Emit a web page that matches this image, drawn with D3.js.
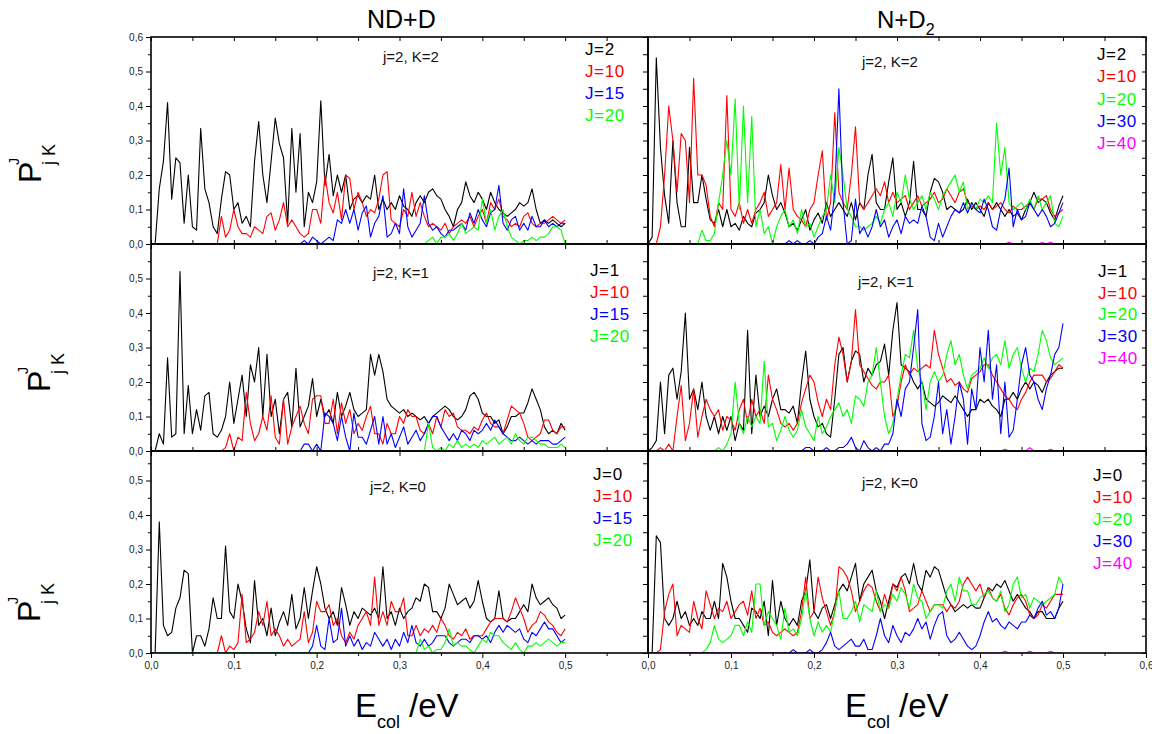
<!DOCTYPE html>
<html lang="en">

<head>
  <meta charset="utf-8">
  <title>P(J,jK) vs collision energy</title>
  <script type="text/javascript" src="https://d3js.org/d3.v7.min.js"></script>
  <style type="text/css">
    body { margin: 0; background: #fff; }
    svg text { font-family: "Liberation Sans", Arial, sans-serif; }
    .tick text { fill: #222; font-size: 10px; }
    .tick line { stroke: #000; }
  </style>
</head>

<body>
  <svg id="chart" width="1152" height="734"></svg>
  <script type="text/javascript">

    //Collision energy grid (eV), one sample every 0.005 eV from 0 to 0.5
    const energyStep = 0.005
    const energies = d3.range(101).map(i => +(i * energyStep).toFixed(3))

    //Headers and legend texts
    const columnTitles = ["ND+D", "N+D"]
    const panelTitles = ["j=2, K=2", "j=2, K=1", "j=2, K=0"]
    const legendNDD = [["J=2", "J=10", "J=15", "J=20"], ["J=1", "J=10", "J=15", "J=20"], ["J=0", "J=10", "J=15", "J=20"]]
    const legendND2 = [["J=2", "J=10", "J=20", "J=30", "J=40"], ["J=1", "J=10", "J=20", "J=30", "J=40"], ["J=0", "J=10", "J=20", "J=30", "J=40"]]
    const xTicksLeft = [0, 0.1, 0.2, 0.3, 0.4, 0.5]
    const xTicksRight = [0, 0.1, 0.2, 0.3, 0.4, 0.5, 0.6]
    const yTicksTop = [0, 0.1, 0.2, 0.3, 0.4, 0.5, 0.6]
    const yTicksOther = [0, 0.1, 0.2, 0.3, 0.4, 0.5]

    //ND+D, K=2
    const nddK2J2 = [
      0, 0, 0.16, 0.24, 0.41, 0.13, 0.25, 0.235, 0.06, 0.2,
      0.05, 0.04, 0.335, 0.16, 0.12, 0.05, 0.03, 0.13, 0.21, 0.2,
      0.1, 0.12, 0.06, 0.08, 0.05, 0.24, 0.355, 0.2, 0.12, 0.24,
      0.365, 0.29, 0.25, 0.06, 0.335, 0.15, 0.32, 0.05, 0.15, 0.12,
      0.18, 0.415, 0.17, 0.26, 0.14, 0.2, 0.15, 0.2, 0.1, 0.13,
      0.14, 0.12, 0.14, 0.13, 0.2, 0.1, 0.13, 0.1, 0.12, 0.1,
      0.14, 0.11, 0.1, 0.08, 0.12, 0.14, 0.12, 0.15, 0.16, 0.14,
      0.13, 0.1, 0.08, 0.05, 0.1, 0.12, 0.18, 0.14, 0.12, 0.15,
      0.13, 0.1, 0.15, 0.12, 0.1, 0.09, 0.08, 0.09, 0.1, 0.12,
      0.11, 0.12, 0.16, 0.1, 0.06, 0.07, 0.06, 0.07, 0.06, 0.05,
      0.06]
    const nddK2J10 = [
      0, 0, 0, 0, 0, 0, 0, 0, 0, 0,
      0, 0, 0, 0, 0, 0, 0, 0.08, 0.02, 0.04,
      0.1, 0.05, 0.03, 0.03, 0.02, 0.05, 0.04, 0.03, 0.08, 0.09,
      0.04, 0.07, 0.12, 0.05, 0.07, 0.05, 0.03, 0.02, 0.03, 0.1,
      0.1, 0.06, 0.2, 0.12, 0.09, 0.15, 0.07, 0.2, 0.19, 0.1,
      0.15, 0.12, 0.08, 0.1, 0.09, 0.13, 0.2, 0.21, 0.07, 0.06,
      0.05, 0.1, 0.08, 0.15, 0.08, 0.12, 0.08, 0.05, 0.06, 0.05,
      0.04, 0.06, 0.03, 0.05, 0.06, 0.07, 0.06, 0.08, 0.05, 0.08,
      0.1, 0.06, 0.12, 0.1, 0.13, 0.08, 0.07, 0.05, 0.06, 0.05,
      0.08, 0.09, 0.06, 0.05, 0.06, 0.06, 0.07, 0.08, 0.07, 0.06,
      0.07]
    const nddK2J15 = [
      0, 0, 0, 0, 0, 0, 0, 0, 0, 0,
      0, 0, 0, 0, 0, 0, 0, 0, 0, 0,
      0, 0, 0, 0, 0, 0, 0, 0, 0, 0,
      0, 0, 0, 0, 0, 0, 0, 0.01, 0, 0.02,
      0.01, 0, 0.01, 0.02, 0.01, 0.07, 0.06, 0.1, 0.06, 0.1,
      0.04, 0.09, 0.11, 0.02, 0.06, 0.08, 0.14, 0.02, 0.03, 0.06,
      0.03, 0.16, 0.05, 0.02, 0.04, 0.06, 0.14, 0.06, 0.04, 0.05,
      0.03, 0.02, 0.04, 0.04, 0.05, 0.06, 0.04, 0.09, 0.06, 0.1,
      0.07, 0.05, 0.09, 0.1, 0.17, 0.06, 0.04, 0.07, 0.08, 0.04,
      0.06, 0.04, 0.08, 0.05, 0.05, 0.07, 0.05, 0.06, 0.05, 0.06,
      0.06]
    const nddK2J20 = [
      0, 0, 0, 0, 0, 0, 0, 0, 0, 0,
      0, 0, 0, 0, 0, 0, 0, 0, 0, 0,
      0, 0, 0, 0, 0, 0, 0, 0, 0, 0,
      0, 0, 0, 0, 0, 0, 0, 0, 0, 0,
      0, 0, 0, 0, 0, 0, 0, 0, 0, 0,
      0, 0, 0, 0, 0, 0, 0, 0, 0, 0,
      0, 0, 0, 0, 0, 0, 0, 0.01, 0.02, 0,
      0.02, 0.02, 0.03, 0.01, 0.03, 0.06, 0.03, 0.04, 0.05, 0.04,
      0.13, 0.06, 0.1, 0.04, 0.08, 0.1, 0.05, 0.02, 0.01, 0,
      0.01, 0.01, 0.02, 0.01, 0.02, 0.02, 0.03, 0.05, 0.05, 0.04,
      0]

    //N+D2, K=2
    const nd2K2J2 = [
      0, 0.02, 0.54, 0.28, 0.14, 0.06, 0.3, 0.12, 0.05, 0.05,
      0.28, 0.12, 0.12, 0.2, 0.13, 0.07, 0.06, 0.1, 0.05, 0.1,
      0.05, 0.06, 0.04, 0.08, 0.06, 0.05, 0.09, 0.1, 0.12, 0.2,
      0.14, 0.1, 0.12, 0.09, 0.05, 0.06, 0.04, 0.07, 0.1, 0.04,
      0.07, 0.09, 0.06, 0.12, 0.08, 0.1, 0.12, 0.1, 0.08, 0.12,
      0.07, 0.12, 0.1, 0.2, 0.26, 0.12, 0.1, 0.1, 0.18, 0.25,
      0.1, 0.12, 0.08, 0.12, 0.24, 0.1, 0.1, 0.08, 0.15, 0.19,
      0.18, 0.15, 0.1, 0.11, 0.1, 0.09, 0.1, 0.13, 0.1, 0.12,
      0.1, 0.08, 0.12, 0.1, 0.12, 0.1, 0.08, 0.1, 0.08, 0.09,
      0.07, 0.1, 0.12, 0.15, 0.12, 0.13, 0.12, 0.09, 0.07, 0.11,
      0.14]
    const nd2K2J10 = [
      0, 0, 0, 0.05, 0.2, 0.4, 0.3, 0.15, 0.32, 0.3,
      0.12, 0.48, 0.2, 0.2, 0.17, 0.08, 0.05, 0.12, 0.1, 0.43,
      0.1, 0.08, 0.12, 0.06, 0.1, 0.06, 0.1, 0.12, 0.15, 0.08,
      0.1, 0.12, 0.23, 0.1, 0.22, 0.1, 0.08, 0.07, 0.05, 0.1,
      0.12, 0.2, 0.27, 0.07, 0.12, 0.38, 0.15, 0.12, 0.1, 0.2,
      0.34, 0.12, 0.1, 0.12, 0.14, 0.16, 0.14, 0.18, 0.12, 0.15,
      0.12, 0.13, 0.14, 0.1, 0.12, 0.14, 0.11, 0.12, 0.13, 0.15,
      0.12, 0.13, 0.16, 0.14, 0.12, 0.15, 0.16, 0.12, 0.11, 0.1,
      0.11, 0.1, 0.12, 0.1, 0.11, 0.12, 0.1, 0.09, 0.11, 0.1,
      0.1, 0.11, 0.12, 0.1, 0.13, 0.13, 0.14, 0.1, 0.08, 0.09,
      0.1]
    const nd2K2J20 = [
      0, 0, 0, 0, 0, 0, 0, 0, 0, 0,
      0, 0, 0, 0.04, 0.01, 0.01, 0.03, 0.12, 0.2, 0.3,
      0.2, 0.42, 0.1, 0.4, 0.12, 0.37, 0.05, 0.1, 0.03, 0.05,
      0, 0.05, 0.08, 0.1, 0.05, 0.07, 0.03, 0.1, 0.05, 0.06,
      0.02, 0.05, 0.08, 0.1, 0.2, 0.12, 0.28, 0.2, 0.1, 0.08,
      0.05, 0.05, 0.04, 0.05, 0.06, 0.08, 0.06, 0.1, 0.12, 0.08,
      0.15, 0.12, 0.2, 0.13, 0.1, 0.12, 0.14, 0.1, 0.15, 0.13,
      0.1, 0.14, 0.16, 0.18, 0.2, 0.15, 0.18, 0.1, 0.12, 0.1,
      0.13, 0.12, 0.14, 0.12, 0.35, 0.2, 0.28, 0.12, 0.1, 0.11,
      0.12, 0.1, 0.13, 0.1, 0.14, 0.1, 0.12, 0.14, 0.06, 0.05,
      0.08]
    const nd2K2J30 = [
      0, 0, 0, 0, 0, 0, 0, 0, 0, 0,
      0, 0, 0, 0, 0, 0, 0, 0, 0, 0,
      0, 0, 0, 0, 0, 0, 0, 0, 0, 0,
      0, 0, 0, 0, 0.01, 0, 0.01, 0, 0, 0.01,
      0, 0.02, 0.03, 0.08, 0.04, 0.15, 0.45, 0.12, 0, 0.01,
      0.13, 0.03, 0.05, 0.02, 0.05, 0.1, 0.05, 0.07, 0.02, 0.05,
      0.07, 0.03, 0.08, 0.06, 0.07, 0.06, 0.11, 0.08, 0.02, 0.01,
      0.06, 0.02, 0.05, 0.08, 0.1, 0.09, 0.12, 0.09, 0.12, 0.1,
      0.09, 0.13, 0.1, 0.05, 0.04, 0.1, 0.13, 0.22, 0.05, 0.1,
      0.07, 0.08, 0.12, 0.1, 0.08, 0.1, 0.08, 0.05, 0.06, 0.09,
      0.12]
    const nd2K2J40 = [
      0, 0, 0, 0, 0, 0, 0, 0, 0, 0,
      0, 0, 0, 0, 0, 0, 0, 0, 0, 0,
      0, 0, 0, 0, 0, 0, 0, 0, 0, 0,
      0, 0, 0, 0, 0, 0, 0, 0, 0, 0,
      0, 0, 0, 0, 0, 0, 0, 0, 0, 0,
      0, 0, 0, 0, 0, 0, 0, 0, 0, 0,
      0, 0, 0, 0, 0, 0, 0, 0, 0, 0,
      0, 0, 0, 0, 0, 0, 0, 0, 0, 0,
      0, 0, 0, 0, 0, 0, 0, 0.005, 0, 0,
      0, 0, 0, 0, 0, 0.004, 0, 0.005, 0, 0,
      0]

    //ND+D, K=1
    const nddK1J1 = [
      0, 0, 0.05, 0.02, 0.27, 0.04, 0.05, 0.52, 0.05, 0.19,
      0.05, 0.12, 0.06, 0.16, 0.17, 0.05, 0.04, 0.06, 0.1, 0.2,
      0.08, 0.15, 0.22, 0.1, 0.25, 0.2, 0.3, 0.1, 0.28, 0.1,
      0.15, 0.05, 0.15, 0.17, 0.07, 0.24, 0.07, 0.1, 0.13, 0.21,
      0.1, 0.15, 0.1, 0.12, 0.08, 0.17, 0.1, 0.13, 0.17, 0.12,
      0.1, 0.11, 0.12, 0.28, 0.22, 0.28, 0.23, 0.15, 0.13, 0.12,
      0.11, 0.12, 0.1, 0.11, 0.1, 0.09, 0.1, 0.08, 0.1, 0.11,
      0.12, 0.13, 0.12, 0.1, 0.09, 0.1, 0.12, 0.16, 0.17, 0.15,
      0.11, 0.1, 0.1, 0.08, 0.09, 0.05, 0.07, 0.1, 0.1, 0.11,
      0.11, 0.14, 0.18, 0.15, 0.12, 0.07, 0.05, 0.06, 0.05, 0.08,
      0.06]
    const nddK1J10 = [
      0, 0, 0, 0, 0, 0, 0, 0, 0, 0,
      0, 0, 0, 0, 0, 0, 0, 0, 0.01, 0.05,
      0, 0.04, 0.03, 0.17, 0.08, 0.03, 0.05, 0.1, 0.06, 0.16,
      0.04, 0.02, 0.15, 0.02, 0.07, 0.1, 0.13, 0.08, 0.05, 0.15,
      0.16, 0.16, 0.08, 0.08, 0.15, 0.05, 0.14, 0.08, 0.12, 0.05,
      0.08, 0.06, 0.1, 0.13, 0.05, 0.05, 0.02, 0.08, 0.05, 0.05,
      0.1, 0.08, 0.12, 0.1, 0.1, 0.06, 0.05, 0.08, 0.05, 0.1,
      0.07, 0.12, 0.1, 0.11, 0.07, 0.06, 0.06, 0.05, 0.07, 0.06,
      0.09, 0.11, 0.08, 0.07, 0.07, 0.05, 0.09, 0.13, 0.12, 0.11,
      0.08, 0.04, 0.03, 0.04, 0.05, 0.09, 0.09, 0.06, 0.05, 0.07,
      0.07]
    const nddK1J15 = [
      0, 0, 0, 0, 0, 0, 0, 0, 0, 0,
      0, 0, 0, 0, 0, 0, 0, 0, 0, 0,
      0, 0, 0, 0, 0, 0, 0, 0, 0, 0,
      0, 0, 0, 0, 0, 0, 0, 0.02, 0.02, 0,
      0.02, 0, 0.11, 0.1, 0.08, 0.03, 0.1, 0.04, 0, 0.11,
      0.04, 0.04, 0.02, 0.06, 0.1, 0.02, 0.1, 0.02, 0.05, 0.01,
      0.04, 0.07, 0.02, 0.04, 0.06, 0.03, 0.05, 0.08, 0.1, 0.1,
      0.07, 0.05, 0.03, 0.05, 0.03, 0.06, 0.05, 0.03, 0.06, 0.05,
      0.06, 0.08, 0.06, 0.09, 0.07, 0.05, 0.04, 0.03, 0.03, 0.04,
      0.03, 0.02, 0.03, 0.02, 0.03, 0.03, 0.03, 0.02, 0.02, 0.03,
      0.04]
    const nddK1J20 = [
      0, 0, 0, 0, 0, 0, 0, 0, 0, 0,
      0, 0, 0, 0, 0, 0, 0, 0, 0, 0,
      0, 0, 0, 0, 0, 0, 0, 0, 0, 0,
      0, 0, 0, 0, 0, 0, 0, 0, 0, 0,
      0, 0, 0, 0, 0, 0, 0, 0, 0, 0,
      0, 0, 0, 0, 0, 0, 0, 0, 0, 0,
      0, 0, 0, 0, 0, 0, 0, 0.08, 0.01, 0,
      0.01, 0, 0.02, 0.01, 0.03, 0.01, 0.02, 0.01, 0.02, 0.01,
      0.03, 0.02, 0.03, 0.04, 0.02, 0.03, 0.04, 0.02, 0.05, 0.03,
      0.02, 0.04, 0.04, 0.03, 0.02, 0.02, 0.01, 0.01, 0.01, 0.02,
      0.01]

    //N+D2, K=1
    const nd2K1J1 = [
      0, 0.01, 0.03, 0.2, 0.05, 0.22, 0.24, 0.15, 0.23, 0.4,
      0.15, 0.18, 0.12, 0.2, 0.1, 0.06, 0.1, 0.05, 0.1, 0.06,
      0.1, 0.03, 0.08, 0.06, 0.35, 0.05, 0.22, 0.1, 0.13, 0.1,
      0.15, 0.18, 0.12, 0.12, 0.11, 0.13, 0.08, 0.2, 0.29, 0.15,
      0.1, 0.07, 0.08, 0.05, 0.04, 0.15, 0.28, 0.3, 0.2, 0.26,
      0.29, 0.28, 0.2, 0.24, 0.22, 0.25, 0.26, 0.31, 0.22, 0.35,
      0.43, 0.25, 0.24, 0.23, 0.2, 0.18, 0.2, 0.15, 0.14, 0.13,
      0.14, 0.16, 0.15, 0.14, 0.16, 0.14, 0.12, 0.1, 0.12, 0.12,
      0.15, 0.14, 0.15, 0.13, 0.12, 0.1, 0.15, 0.15, 0.17, 0.15,
      0.18, 0.2, 0.18, 0.2, 0.19, 0.17, 0.2, 0.22, 0.23, 0.24,
      0.24]
    const nd2K1J10 = [
      0, 0, 0, 0.01, 0, 0.02, 0, 0.1, 0.19, 0.03,
      0.08, 0.18, 0.04, 0.1, 0.15, 0.12, 0.1, 0.12, 0.06, 0.1,
      0.09, 0.06, 0.12, 0.15, 0.08, 0.15, 0.1, 0.12, 0.08, 0.22,
      0.15, 0.12, 0.08, 0.07, 0.08, 0.06, 0.08, 0.14, 0.18, 0.22,
      0.2, 0.14, 0.1, 0.15, 0.12, 0.25, 0.33, 0.28, 0.2, 0.26,
      0.41, 0.25, 0.23, 0.21, 0.19, 0.18, 0.2, 0.2, 0.22, 0.1,
      0.13, 0.2, 0.25, 0.22, 0.24, 0.23, 0.24, 0.25, 0.24, 0.35,
      0.28, 0.24, 0.2, 0.21, 0.19, 0.2, 0.18, 0.17, 0.21, 0.22,
      0.23, 0.25, 0.25, 0.22, 0.2, 0.18, 0.16, 0.15, 0.13, 0.12,
      0.15, 0.17, 0.2, 0.22, 0.22, 0.22, 0.2, 0.21, 0.23, 0.25,
      0.24]
    const nd2K1J20 = [
      0, 0, 0, 0, 0, 0, 0, 0, 0, 0,
      0, 0, 0, 0, 0, 0, 0, 0.01, 0, 0.02,
      0.05, 0.2, 0.08, 0.05, 0.1, 0.07, 0.1, 0.08, 0.26, 0.07,
      0.08, 0.03, 0.06, 0.1, 0.06, 0.04, 0.06, 0.12, 0.07, 0.05,
      0.03, 0.1, 0.05, 0.07, 0.1, 0.12, 0.14, 0.1, 0.12, 0.08,
      0.16, 0.15, 0.13, 0.2, 0.22, 0.3, 0.2, 0.1, 0.05, 0.08,
      0.15, 0.22, 0.28, 0.27, 0.35, 0.24, 0.2, 0.12, 0.2, 0.23,
      0.2, 0.22, 0.28, 0.32, 0.25, 0.28, 0.22, 0.18, 0.22, 0.23,
      0.24, 0.27, 0.24, 0.27, 0.28, 0.25, 0.32, 0.24, 0.28, 0.3,
      0.24, 0.2, 0.24, 0.23, 0.28, 0.35, 0.32, 0.27, 0.25, 0.26,
      0.27]
    const nd2K1J30 = [
      0, 0, 0, 0, 0, 0, 0, 0, 0, 0,
      0, 0, 0, 0, 0, 0, 0, 0, 0, 0,
      0, 0, 0, 0, 0, 0, 0, 0, 0, 0,
      0, 0, 0, 0, 0, 0, 0, 0, 0.01, 0.01,
      0, 0, 0, 0.01, 0, 0, 0.01, 0.01, 0.02, 0.04,
      0.01, 0, 0.03, 0.01, 0, 0.01, 0, 0.02, 0.02, 0.05,
      0.15, 0.1, 0.18, 0.2, 0.3, 0.41, 0.08, 0.03, 0.04, 0.1,
      0.2, 0.05, 0.12, 0.02, 0.1, 0.2, 0.15, 0.02, 0.18, 0.12,
      0.3, 0.2, 0.35, 0.15, 0.25, 0.05, 0.2, 0.04, 0.06, 0.15,
      0.25, 0.3, 0.22, 0.2, 0.15, 0.12, 0.18, 0.22, 0.28, 0.3,
      0.37]
    const nd2K1J40 = [
      0, 0, 0, 0, 0, 0, 0, 0, 0, 0,
      0, 0, 0, 0, 0, 0, 0, 0, 0, 0,
      0, 0, 0, 0, 0, 0, 0, 0, 0, 0,
      0, 0, 0, 0, 0, 0, 0, 0, 0, 0,
      0, 0, 0, 0, 0, 0, 0, 0, 0, 0,
      0, 0, 0, 0, 0, 0, 0, 0, 0, 0,
      0, 0, 0, 0, 0, 0, 0, 0, 0, 0,
      0, 0, 0, 0, 0, 0, 0, 0, 0, 0,
      0, 0, 0, 0, 0, 0, 0.005, 0, 0, 0,
      0, 0, 0.01, 0, 0, 0, 0, 0.005, 0, 0,
      0]

    //ND+D, K=0
    const nddK0J0 = [
      0, 0, 0.38, 0.08, 0.05, 0.06, 0.13, 0.16, 0.24, 0.23,
      0, 0.05, 0.05, 0.02, 0.07, 0.16, 0.1, 0.1, 0.31, 0.12,
      0.1, 0.2, 0.15, 0.07, 0.03, 0.21, 0.08, 0.1, 0.05, 0.13,
      0.05, 0.09, 0.12, 0.08, 0.17, 0.07, 0.1, 0.19, 0.1, 0.18,
      0.25, 0.2, 0.13, 0.1, 0.12, 0.08, 0.19, 0.14, 0.08, 0.12,
      0.1, 0.13, 0.12, 0.11, 0.13, 0.1, 0.25, 0.1, 0.12, 0.08,
      0.13, 0.1, 0.12, 0.13, 0.16, 0.15, 0.2, 0.19, 0.12, 0.12,
      0.1, 0.13, 0.2, 0.17, 0.14, 0.15, 0.16, 0.13, 0.15, 0.21,
      0.15, 0.1, 0.09, 0.1, 0.18, 0.1, 0.09, 0.1, 0.1, 0.12,
      0.14, 0.12, 0.2, 0.16, 0.14, 0.15, 0.16, 0.14, 0.13, 0.1,
      0.11]
    const nddK0J10 = [
      0, 0, 0, 0, 0, 0, 0, 0, 0, 0,
      0, 0, 0, 0, 0, 0, 0, 0.05, 0, 0.02,
      0.01, 0.03, 0.17, 0.03, 0.04, 0.06, 0.12, 0.08, 0.15, 0.05,
      0.07, 0.05, 0.02, 0.04, 0.02, 0.03, 0.04, 0.12, 0.03, 0.06,
      0.15, 0.12, 0.12, 0.14, 0.08, 0.1, 0.05, 0.03, 0.06, 0.04,
      0.08, 0.1, 0.12, 0.08, 0.22, 0.08, 0.12, 0.08, 0.15, 0.12,
      0.12, 0.16, 0.05, 0.05, 0.08, 0.05, 0.07, 0.06, 0.08, 0.06,
      0.1, 0.08, 0.05, 0.04, 0.06, 0.05, 0.07, 0.04, 0.05, 0.05,
      0.05, 0.07, 0.09, 0.1, 0.1, 0.1, 0.09, 0.12, 0.16, 0.13,
      0.1, 0.06, 0.08, 0.09, 0.12, 0.11, 0.09, 0.08, 0.06, 0.05,
      0.07]
    const nddK0J15 = [
      0, 0, 0, 0, 0, 0, 0, 0, 0, 0,
      0, 0, 0, 0, 0, 0, 0, 0, 0, 0,
      0, 0, 0, 0, 0, 0, 0, 0, 0, 0,
      0, 0, 0, 0, 0, 0, 0, 0, 0, 0.02,
      0.08, 0.02, 0.01, 0.1, 0.03, 0.04, 0.13, 0.02, 0.05, 0.02,
      0.04, 0.01, 0.03, 0.02, 0.06, 0.04, 0.02, 0.04, 0.01, 0.04,
      0.02, 0.06, 0.03, 0.08, 0.03, 0.02, 0.04, 0.02, 0.03, 0.05,
      0.05, 0.05, 0.03, 0.02, 0.03, 0.04, 0.04, 0.03, 0.05, 0.05,
      0.04, 0.05, 0.03, 0.06, 0.08, 0.06, 0.08, 0.07, 0.06, 0.07,
      0.04, 0.03, 0.06, 0.05, 0.07, 0.09, 0.07, 0.07, 0.05, 0.03,
      0.04]
    const nddK0J20 = [
      0, 0, 0, 0, 0, 0, 0, 0, 0, 0,
      0, 0, 0, 0, 0, 0, 0, 0, 0, 0,
      0, 0, 0, 0, 0, 0, 0, 0, 0, 0,
      0, 0, 0, 0, 0, 0, 0, 0, 0, 0,
      0, 0, 0, 0, 0, 0, 0, 0, 0, 0,
      0, 0, 0, 0, 0, 0, 0, 0, 0, 0,
      0, 0, 0, 0, 0, 0.04, 0.01, 0.02, 0, 0.01,
      0.01, 0.03, 0.07, 0.02, 0.03, 0.02, 0.02, 0.01, 0, 0.02,
      0.04, 0.03, 0.06, 0.05, 0.05, 0.03, 0.02, 0.01, 0.03, 0.01,
      0, 0.02, 0.02, 0.03, 0.02, 0.03, 0.04, 0.03, 0.02, 0.03,
      0.03]

    //N+D2, K=0
    const nd2K0J0 = [
      0, 0, 0.34, 0.32, 0.1, 0.08, 0.1, 0.15, 0.1, 0.12,
      0.08, 0.1, 0.08, 0.12, 0.1, 0.1, 0.15, 0.1, 0.26, 0.22,
      0.15, 0.1, 0.1, 0.08, 0.06, 0.13, 0.12, 0.1, 0.15, 0.05,
      0.21, 0.08, 0.15, 0.1, 0.08, 0.1, 0.08, 0.15, 0.18, 0.27,
      0.12, 0.1, 0.13, 0.14, 0.1, 0.14, 0.18, 0.2, 0.18, 0.22,
      0.26, 0.15, 0.2, 0.22, 0.24, 0.18, 0.15, 0.1, 0.15, 0.2,
      0.19, 0.22, 0.23, 0.2, 0.26, 0.2, 0.18, 0.24, 0.22, 0.25,
      0.24, 0.2, 0.16, 0.14, 0.12, 0.13, 0.14, 0.13, 0.14, 0.13,
      0.13, 0.16, 0.19, 0.18, 0.2, 0.19, 0.21, 0.18, 0.15, 0.17,
      0.15, 0.13, 0.12, 0.1, 0.12, 0.12, 0.1, 0.1, 0.1, 0.13,
      0.15]
    const nd2K0J10 = [
      0, 0, 0, 0.01, 0.12, 0.17, 0.2, 0.05, 0.08, 0.07,
      0.06, 0.15, 0.1, 0.07, 0.18, 0.14, 0.1, 0.13, 0.12, 0.15,
      0.1, 0.12, 0.14, 0.15, 0.11, 0.18, 0.1, 0.13, 0.08, 0.09,
      0.06, 0.05, 0.06, 0.07, 0.06, 0.05, 0.06, 0.12, 0.22, 0.1,
      0.12, 0.22, 0.16, 0.12, 0.08, 0.12, 0.25, 0.24, 0.22, 0.18,
      0.12, 0.15, 0.18, 0.2, 0.19, 0.15, 0.12, 0.17, 0.13, 0.2,
      0.18, 0.22, 0.18, 0.12, 0.13, 0.14, 0.18, 0.15, 0.12, 0.14,
      0.14, 0.14, 0.12, 0.14, 0.13, 0.15, 0.2, 0.22, 0.2, 0.18,
      0.2, 0.16, 0.19, 0.16, 0.15, 0.17, 0.13, 0.11, 0.14, 0.16,
      0.17, 0.15, 0.11, 0.1, 0.11, 0.14, 0.13, 0.15, 0.17, 0.17,
      0.17]
    const nd2K0J20 = [
      0, 0, 0, 0, 0, 0, 0, 0, 0, 0,
      0, 0, 0, 0, 0.01, 0.03, 0.08, 0.04, 0.03, 0.04,
      0.05, 0.08, 0.08, 0.05, 0.09, 0.06, 0.2, 0.2, 0.08, 0.12,
      0.1, 0.08, 0.04, 0.13, 0.06, 0.07, 0.05, 0.1, 0.18, 0.1,
      0.05, 0.09, 0.06, 0.08, 0.06, 0.12, 0.18, 0.1, 0.1, 0.12,
      0.15, 0.09, 0.14, 0.13, 0.12, 0.18, 0.12, 0.14, 0.13, 0.17,
      0.15, 0.19, 0.17, 0.13, 0.2, 0.16, 0.15, 0.1, 0.12, 0.14,
      0.14, 0.13, 0.18, 0.2, 0.15, 0.22, 0.18, 0.18, 0.14, 0.14,
      0.16, 0.17, 0.18, 0.16, 0.15, 0.18, 0.12, 0.14, 0.2, 0.22,
      0.16, 0.17, 0.13, 0.16, 0.15, 0.14, 0.15, 0.16, 0.17, 0.22,
      0.2]
    const nd2K0J30 = [
      0, 0, 0, 0, 0, 0, 0, 0, 0, 0,
      0, 0, 0, 0, 0, 0, 0, 0, 0, 0,
      0, 0, 0, 0, 0, 0, 0, 0, 0, 0,
      0, 0, 0, 0, 0, 0.01, 0, 0, 0, 0.01,
      0, 0, 0.01, 0.03, 0.06, 0.02, 0.01, 0.02, 0.03, 0.04,
      0.02, 0.02, 0.04, 0.01, 0.01, 0.05, 0.1, 0.05, 0.03, 0.08,
      0.05, 0.03, 0.06, 0.05, 0.07, 0.1, 0.07, 0.09, 0.04, 0.08,
      0.11, 0.12, 0.05, 0.03, 0.04, 0.06, 0.04, 0.02, 0.01, 0.02,
      0.05, 0.09, 0.12, 0.09, 0.1, 0.08, 0.07, 0.09, 0.08, 0.07,
      0.09, 0.09, 0.11, 0.1, 0.13, 0.15, 0.11, 0.12, 0.1, 0.13,
      0.2]
    const nd2K0J40 = [
      0, 0, 0, 0, 0, 0, 0, 0, 0, 0,
      0, 0, 0, 0, 0, 0, 0, 0, 0, 0,
      0, 0, 0, 0, 0, 0, 0, 0, 0, 0,
      0, 0, 0, 0, 0, 0, 0, 0, 0, 0,
      0, 0, 0, 0, 0, 0, 0, 0, 0, 0,
      0, 0, 0, 0, 0, 0, 0, 0, 0, 0,
      0, 0, 0, 0, 0, 0, 0, 0, 0, 0,
      0, 0, 0, 0, 0, 0, 0, 0, 0, 0,
      0, 0, 0, 0, 0, 0, 0.005, 0, 0, 0,
      0, 0, 0.005, 0, 0, 0, 0, 0.005, 0, 0,
      0]

    //Series per panel, [row][column], in drawing (legend) order
    const panelSeries = [
      [[nddK2J2, nddK2J10, nddK2J15, nddK2J20], [nd2K2J2, nd2K2J10, nd2K2J20, nd2K2J30, nd2K2J40]],
      [[nddK1J1, nddK1J10, nddK1J15, nddK1J20], [nd2K1J1, nd2K1J10, nd2K1J20, nd2K1J30, nd2K1J40]],
      [[nddK0J0, nddK0J10, nddK0J15, nddK0J20], [nd2K0J0, nd2K0J10, nd2K0J20, nd2K0J30, nd2K0J40]]
    ]
    const legends = [legendNDD, legendND2]

    //Layout and styles
    const colColors = [["#000", "#ff0000", "#0000ff", "#00ff00"], ["#000", "#ff0000", "#00ff00", "#0000ff", "#ff00ff"]]
    const cols = [{ left: 151, right: 648 }, { left: 648, right: 1146 }]
    const rows = [{ top: 37, bottom: 244 }, { top: 244, bottom: 451 }, { top: 451, bottom: 653 }]
    const legendPos = [
      [{ x: 585, y: 55, step: 22 }, { x: 1097, y: 60, step: 22.3 }],
      [{ x: 590, y: 276, step: 22 }, { x: 1098, y: 277, step: 21.7 }],
      [{ x: 593, y: 480, step: 22 }, { x: 1093, y: 481, step: 22 }]
    ]
    const labelPos = [
      [{ x: 383, y: 62 }, { x: 862, y: 67 }],
      [{ x: 373, y: 278 }, { x: 858, y: 287 }],
      [{ x: 370, y: 492 }, { x: 862, y: 488 }]
    ]
    const yTitlePos = [{ x: 41, y: 183 }, { x: 50, y: 392 }, { x: 40, y: 622 }]

    const locale = d3.formatLocale({ decimal: ",", thousands: ".", grouping: [3], currency: ["", ""] })
    const fmt = locale.format(".1f")
    const halfSteps = d3.range(0, 0.601, 0.05).map(v => +v.toFixed(2))
    const minorSteps = halfSteps.filter((v, i) => i % 2 == 1)

    const svg = d3.select("#chart")
    const defs = svg.append("defs")

    function plain(g) {
      g.select(".domain").remove()
    }

    rows.forEach((row, r) => {
      cols.forEach((col, c) => {
        const x = d3.scaleLinear().domain([0, 0.6]).range([col.left, col.right])
        const y = d3.scaleLinear().domain([0, 0.6]).range([row.bottom, row.bottom - 207])
        const clipId = `clip-${r}-${c}`
        defs.append("clipPath").attr("id", clipId)
          .append("rect")
          .attr("x", col.left).attr("y", row.top)
          .attr("width", col.right - col.left).attr("height", row.bottom - row.top)

        //Lines
        const line = d3.line().x((d, i) => x(energies[i])).y(d => y(d))
        const g = svg.append("g").attr("clip-path", `url(#${clipId})`)
        panelSeries[r][c].forEach((values, k) => {
          g.append("path")
            .datum(values)
            .attr("d", line)
            .attr("fill", "none")
            .attr("stroke", colColors[c][k])
            .attr("stroke-width", 1.1)
            .attr("stroke-linejoin", "round")
        })

        //Ticks
        const yVals = halfSteps.filter(v => y(v) >= row.top - 0.5)
        const yMajor = (r == 0 ? yTicksTop : yTicksOther)
        if (c == 0) {
          svg.append("g").attr("transform", `translate(${col.left},0)`)
            .call(d3.axisLeft(y).tickValues(yMajor).tickSize(5).tickPadding(3).tickFormat(fmt)).call(plain)
          svg.append("g").attr("transform", `translate(${col.left},0)`)
            .call(d3.axisLeft(y).tickValues(minorSteps.filter(v => yVals.includes(v))).tickSize(3).tickFormat("")).call(plain)
        } else {
          svg.append("g").attr("transform", `translate(${col.left},0)`)
            .call(d3.axisLeft(y).tickValues(yVals).tickSize(5).tickFormat("")).call(plain)
          svg.append("g").attr("transform", `translate(${col.right},0)`)
            .call(d3.axisLeft(y).tickValues(yVals).tickSize(4).tickFormat("")).call(plain)
        }
        //top edge
        svg.append("g").attr("transform", `translate(0,${row.top})`)
          .call(d3.axisBottom(x).tickValues(r == 0 ? halfSteps : xTicksRight).tickSize(r == 0 ? 4 : 5).tickFormat("")).call(plain)
        //bottom edge
        if (r < rows.length - 1) {
          svg.append("g").attr("transform", `translate(0,${row.bottom})`)
            .call(d3.axisTop(x).tickValues(halfSteps).tickSize(4).tickFormat("")).call(plain)
        } else {
          svg.append("g").attr("transform", `translate(0,${row.bottom})`)
            .call(d3.axisBottom(x).tickValues(c == 0 ? xTicksLeft : xTicksRight).tickSize(5).tickPadding(4).tickFormat(fmt)).call(plain)
          svg.append("g").attr("transform", `translate(0,${row.bottom})`)
            .call(d3.axisBottom(x).tickValues(minorSteps).tickSize(3).tickFormat("")).call(plain)
        }

        //Frame
        svg.append("rect")
          .attr("x", col.left).attr("y", row.top)
          .attr("width", col.right - col.left).attr("height", row.bottom - row.top)
          .attr("fill", "none").attr("stroke", "#000").attr("stroke-width", 1.6)

        //Panel label
        svg.append("text")
          .attr("x", labelPos[r][c].x).attr("y", labelPos[r][c].y)
          .attr("font-size", 15).attr("fill", "#111")
          .text(panelTitles[r])

        //Legend
        const lp = legendPos[r][c]
        legends[c][r].forEach((txt, k) => {
          svg.append("text")
            .attr("x", lp.x).attr("y", lp.y + k * lp.step)
            .attr("font-size", 17).attr("letter-spacing", 0.6)
            .attr("fill", colColors[c][k])
            .text(txt)
        })
      })

      //Y title P^J_jK, rotated
      const yt = svg.append("g").attr("transform", `translate(${yTitlePos[r].x},${yTitlePos[r].y}) rotate(-90)`)
      yt.append("text").attr("x", 0).attr("y", 0).attr("font-size", 32).text("P")
      yt.append("text").attr("x", 18).attr("y", -22).attr("font-size", 14).text("J")
      yt.append("text").attr("x", 18).attr("y", 14).attr("font-size", 18).text("j K")
    })

    //Column titles
    svg.append("text").attr("x", 367).attr("y", 28).attr("font-size", 25).text(columnTitles[0])
    const t2 = svg.append("text").attr("x", 877).attr("y", 28).attr("font-size", 24).text(columnTitles[1])
    t2.append("tspan").attr("font-size", 16).attr("dy", 7).text("2")

    //X titles
    const xTitleX = [355, 845]
    xTitleX.forEach(x0 => {
      const t = svg.append("text").attr("x", x0).attr("y", 717).attr("font-size", 33).text("E")
      t.append("tspan").attr("font-size", 18).attr("dy", 11).text("col")
      t.append("tspan").attr("font-size", 33).attr("dy", -11).attr("dx", 9).text("/eV")
    })

  </script>
</body>

</html>
